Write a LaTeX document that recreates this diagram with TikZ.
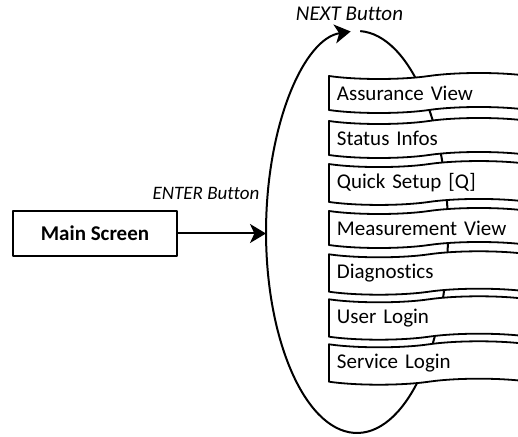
\documentclass[tikz,border=0pt]{standalone}
\usepackage{fontspec}
\setmainfont{Carlito}[Ligatures=NoCommon]
\usetikzlibrary{shapes.symbols,arrows.meta}
\tikzset{
  screen/.style={draw=black, line width=1pt, fill=white, minimum width=82pt, minimum height=22.5pt, font=\fontsize{10.5}{12}\selectfont\bfseries},
  page/.style={tape, draw=black, line width=0.9pt, fill=white, tape bend height=3pt, minimum width=100pt, minimum height=20pt, text width=92pt, align=left, anchor=west, inner xsep=4pt, font=\fontsize{10.5}{12}\selectfont},
  key/.style={font=\fontsize{9.5}{11}\selectfont\itshape},
  flow/.style={draw=black, line width=1pt, -{Stealth[length=8pt, width=9.5pt, inset=2.2pt]}},
}
\begin{document}
\begin{tikzpicture}[x=0.5pt, y=-0.5pt, line join=round]
\useasboundingbox (0,0) rectangle (518,437);
\clip (0,0) rectangle (518,437);
% loop of the NEXT key
\path[flow] (360.2,31.1) arc[start angle=-88, end angle=266, x radius=91, y radius=201];
% menu pages
\foreach \pg/\txt [count=\i from 0] in {assur/Assurance View, status/Status Infos, setup/Quick Setup [Q], meas/Measurement View, diag/Diagnostics, user/User Login, serv/Service Login}
  \node[page] (\pg) at (328, 93+45*\i) {\txt};
% entry
\node[screen] (main) at (95,233.5) {Main Screen};
\coordinate (loopW) at (266,233.5);
\path[flow] (main) -- (loopW);
\node[key] (enter) at (206,193) {ENTER Button};
\node[key, font=\fontsize{10.5}{12}\selectfont\itshape] (next) at (349.5,14) {NEXT Button};
\end{tikzpicture}
\end{document}
